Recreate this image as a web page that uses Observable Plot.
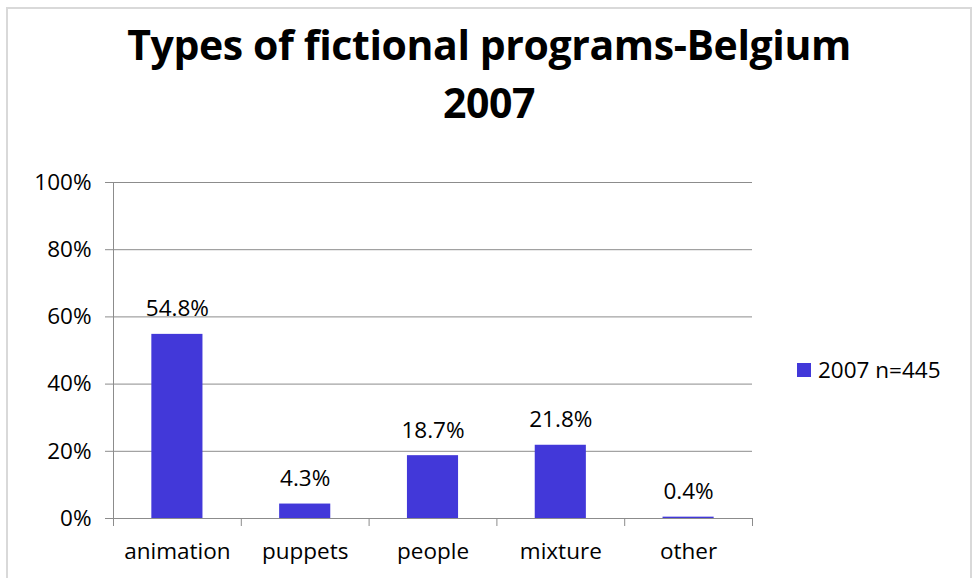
<!DOCTYPE html>
<html>
<head>
<meta charset="utf-8">
<script src="https://cdn.jsdelivr.net/npm/d3@7"></script>
<script src="https://cdn.jsdelivr.net/npm/@observablehq/plot@0.6"></script>
<style>
  html, body { margin: 0; padding: 0; background: #fff; }
  #wrap { position: relative; width: 978px; height: 578px; overflow: hidden; font-family: "Open Sans", sans-serif; }
  #frame { position: absolute; left: 6px; top: 7px; width: 962px; height: 600px; border: 2px solid #d9d9d9; }
  #title { position: absolute; left: 0; top: 15px; width: 978px; text-align: center; font-weight: bold; font-size: 41px; line-height: 58px; color: #000; letter-spacing: -0.4px; }
  #chart { position: absolute; left: 0; top: 150px; }
  #legend { position: absolute; left: 797px; top: 354px; display: flex; align-items: center; font-size: 22.5px; color: #000; }
  #legend .sw { width: 14px; height: 14px; margin-right: 7px; }
</style>
</head>
<body>
<div id="wrap">
  <div id="frame"></div>
  <div id="title"></div>
  <div id="chart"></div>
  <div id="legend"><div class="sw"></div><span id="legtext"></span></div>
</div>
<script>
const titleLines = ["Types of fictional programs-Belgium", "2007"];
const categories = ["animation", "puppets", "people", "mixture", "other"];
const values = [54.8, 4.3, 18.7, 21.8, 0.4];
const seriesName = "2007 n=445";
const yTicks = [0, 20, 40, 60, 80, 100];
const barColor = "#4238d9";

document.getElementById("title").innerHTML = titleLines.join("<br>");
document.getElementById("legtext").textContent = seriesName;
document.querySelector("#legend .sw").style.background = barColor;

const data = categories.map((c, i) => ({category: c, value: values[i], idx: i}));
const bounds = d3.range(0, categories.length + 1);
const centers = categories.map((c, i) => i + 0.5);

const chart = Plot.plot({
  width: 978,
  height: 428,
  marginLeft: 113,
  marginRight: 226,
  marginTop: 32,
  marginBottom: 60,
  style: {fontFamily: "Open Sans, sans-serif", fontSize: "22.5px", color: "#000", background: "transparent"},
  x: {type: "linear", domain: [0, categories.length], axis: null},
  y: {domain: [0, 100], axis: null},
  marks: [
    Plot.gridY(yTicks, {stroke: "#8c8c8c", strokeOpacity: 1, strokeWidth: 1}),
    Plot.ruleX([0], {stroke: "#8c8c8c", y1: 0, y2: 100}),
    Plot.axisY(yTicks, {label: null, tickSize: 8, tickPadding: 14, tickFormat: d => d + "%", stroke: "#8c8c8c", fill: "#000", fontSize: 22.5}),
    Plot.axisX(bounds, {label: null, tickSize: 8, tickFormat: () => "", stroke: "#8c8c8c"}),
    Plot.axisX(centers, {label: null, tickSize: 0, tickPadding: 25, tickFormat: d => categories[Math.round(d - 0.5)], fill: "#000", fontSize: 22.5}),
    Plot.rectY(data, {x1: d => d.idx + 0.3, x2: d => d.idx + 0.7, y1: 0, y2: "value", fill: barColor}),
    Plot.text(data, {x: d => d.idx + 0.5, y: "value", text: d => d.value.toFixed(1) + "%", lineAnchor: "bottom", dy: -18, fill: "#000", fontSize: 22.5})
  ]
});
document.getElementById("chart").appendChild(chart);
</script>
</body>
</html>
